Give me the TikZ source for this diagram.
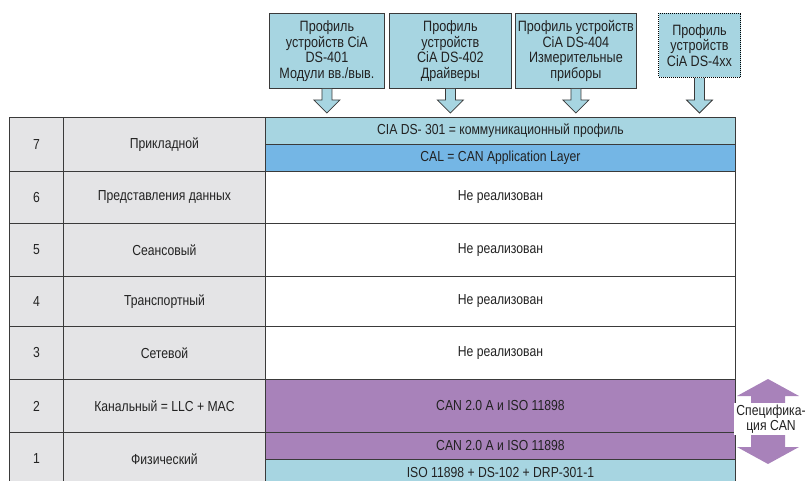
\documentclass[tikz,border=0pt]{standalone}
\usepackage{fontspec}
\setmainfont[FakeStretch=0.84]{Liberation Sans}
\usetikzlibrary{calc}
\definecolor{lblue}{HTML}{A7D5E1}
\definecolor{mblue}{HTML}{74B6E5}
\definecolor{purp}{HTML}{A882BA}
\definecolor{lgray}{HTML}{E4E4E6}
\definecolor{linec}{HTML}{3A3A3A}
\definecolor{txt}{HTML}{222222}
\tikzset{
  cell/.style={draw=linec, line width=0.9pt, inner sep=0pt, anchor=north west,
    text=txt, align=center},
  numcell/.style={cell, fill=lgray, minimum width=54pt},
  namecell/.style={cell, fill=lgray, minimum width=202pt},
  datacell/.style={cell, fill=white, minimum width=470pt},
  profile/.style={draw=linec, line width=0.8pt, fill=lblue, inner sep=0pt,
    anchor=north west, align=center, text=txt,
    font=\fontsize{15}{15.5}\selectfont},
  blockarrow/.style={draw=linec, line width=0.8pt, fill=lblue, line join=miter}
}
% one OSI layer row: name prefix, top, height, number, layer name
\newcommand\osilayer[5]{%
  \node[numcell, minimum height=#3pt] (#1n) at (9,#2) {#4};
  \node[namecell, minimum height=#3pt] (#1l) at (63,#2) {#5};
}
\begin{document}
\begin{tikzpicture}[x=1pt,y=-1pt,font=\fontsize{14.5}{15}\selectfont]
\useasboundingbox (0,0) rectangle (809,481);

% device profiles
\node[profile, minimum width=115pt, minimum height=75pt] (p1) at (269,13)
  {Профиль\\устройств CiA\\DS-401\\Модули вв./выв.};
\node[profile, minimum width=122pt, minimum height=75pt] (p2) at (389,13)
  {Профиль\\устройств\\CiA DS-402\\Драйверы};
\node[profile, minimum width=121pt, minimum height=75pt] (p3) at (515,13)
  {Профиль устройств\\CiA DS-404\\Измерительные\\приборы};
\node[profile, draw=black, line width=1pt, densely dotted,
  minimum width=82pt, minimum height=64pt] (p4) at (658,13)
  {Профиль\\устройств\\CiA DS-4xx};

% layers
\osilayer{r7}{117}{54}{7}{Прикладной}
\osilayer{r6}{171}{52}{6}{Представления данных}
\osilayer{r5}{223}{53}{5}{Сеансовый}
\osilayer{r4}{276}{50}{4}{Транспортный}
\osilayer{r3}{326}{53}{3}{Сетевой}
\osilayer{r2}{379}{53}{2}{Канальный = LLC + MAC}
\osilayer{r1}{432}{53}{1}{Физический}

\node[datacell, fill=lblue, minimum height=27pt] (d7a) at (265,117)
  {CIA DS- 301 = коммуникационный профиль};
\node[datacell, fill=mblue, minimum height=27pt] (d7b) at (265,144)
  {CAL = CAN Application Layer};
\node[datacell, minimum height=52pt] (d6) at (265,171) {Не реализован};
\node[datacell, minimum height=53pt] (d5) at (265,223) {Не реализован};
\node[datacell, minimum height=50pt] (d4) at (265,276) {Не реализован};
\node[datacell, minimum height=53pt] (d3) at (265,326) {Не реализован};
\node[datacell, fill=purp, minimum height=53pt] (d2) at (265,379)
  {CAN 2.0 A и ISO 11898};
\node[datacell, fill=purp, minimum height=27pt] (d1a) at (265,432)
  {CAN 2.0 A и ISO 11898};
\node[datacell, fill=lblue, minimum height=26pt] (d1b) at (265,459)
  {ISO 11898 + DS-102 + DRP-301-1};

% profile arrows into the application layer
\coordinate (tipline) at (0,113);
\foreach \p in {p1,p2,p3,p4}{
  \coordinate (t\p) at (\p.south |- tipline);
  \draw[blockarrow] ($(\p.south)+(-5,0)$) -- ($(t\p)+(-5,-13)$)
    -- ($(t\p)+(-13,-13)$) -- (t\p) -- ($(t\p)+(13,-13)$)
    -- ($(t\p)+(5,-13)$) -- ($(\p.south)+(5,0)$);
}

% CAN specification span arrow
\fill[purp] (768,379) -- (799,396) -- (785,396) -- (785,447) -- (799,447)
  -- (768,464) -- (737,447) -- (751,447) -- (751,396) -- (737,396) -- cycle;
\node[fill=white, inner sep=2pt, align=center, text=txt] (spec) at (771,419)
  {Специфика-\\ция CAN};
\end{tikzpicture}
\end{document}
